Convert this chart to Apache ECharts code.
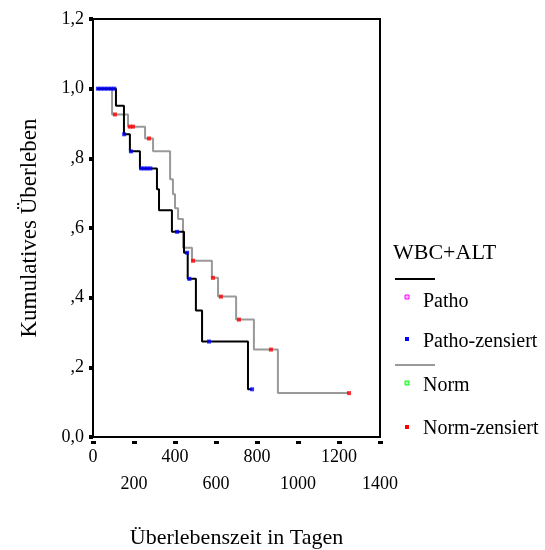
<!DOCTYPE html>
<html>
<head>
<meta charset="utf-8">
<script src="https://cdn.jsdelivr.net/npm/echarts@6/dist/echarts.min.js"></script>
<style>html,body{margin:0;padding:0;background:#fff}#c{width:545px;height:550px}</style>
</head>
<body>
<div id="c"></div>
<script>
// Tick labels
const xTickLabels = ['0','200','400','600','800','1000','1200','1400'];
const yTickLabels = ['0,0',',2',',4',',6',',8','1,0','1,2'];

// Patho (black step line): times and survival after each step
const pathoTimes = [20,112,151,180,229,312,322,385,444,462,502,532,756,776];
const pathoSurv  = [1.0,0.951,0.869,0.820,0.771,0.711,0.651,0.589,0.529,0.454,0.363,0.274,0.137,0.137];
// Patho censored
const pathoCensTimes = [24,40,56,72,88,104,152,185,235,250,265,280,410,459,470,566,776];
const pathoCensSurv  = [1.0,1.0,1.0,1.0,1.0,1.0,0.869,0.820,0.771,0.771,0.771,0.771,0.589,0.529,0.454,0.274,0.137];

// Norm (gray step line)
const normTimes = [20,93,171,254,293,376,390,400,415,439,483,580,610,698,785,902,1249];
const normSurv  = [1.0,0.926,0.891,0.857,0.820,0.740,0.697,0.657,0.626,0.543,0.506,0.457,0.403,0.337,0.251,0.126,0.126];
// Norm censored
const normCensTimes = [107,180,195,273,488,585,624,712,868,1249];
const normCensSurv  = [0.926,0.891,0.891,0.857,0.506,0.457,0.403,0.337,0.251,0.126];

const zip = (a,b) => a.map((v,i)=>[v,b[i]]);
const FONT = '"Liberation Serif", "Times New Roman", serif';

const chart = echarts.init(document.getElementById('c'), null, {renderer:'canvas'});
chart.setOption({
  animation:false,
  backgroundColor:'#fff',
  grid:{left:93,right:165,top:19,bottom:113,outerBoundsMode:'none',containLabel:false,
        show:true,borderColor:'#000',borderWidth:2,backgroundColor:'transparent'},
  xAxis:[{
    type:'value',min:0,max:1400,interval:200,
    axisLine:{show:true,lineStyle:{color:'#000',width:2}},
    axisTick:{show:false},
    splitLine:{show:false},
    axisLabel:{
      color:'#000',fontFamily:FONT,fontSize:18,lineHeight:27,margin:7,
      formatter:(v)=>{const i=Math.round(v/200);return (i%2?'\n':'')+xTickLabels[i];}
    },
    name:'Überlebenszeit in Tagen',nameLocation:'middle',nameGap:90,
    nameTextStyle:{color:'#000',fontFamily:FONT,fontSize:22}
  },{
    type:'value',min:0,max:1400,interval:200,position:'bottom',offset:4,
    axisLine:{show:false},axisLabel:{show:false},splitLine:{show:false},
    axisTick:{show:true,length:3,lineStyle:{color:'#000',width:5}}
  }],
  yAxis:{
    type:'value',min:0,max:1.2,interval:0.2,
    axisLine:{show:true,lineStyle:{color:'#000',width:2}},
    axisTick:{show:true,length:4,lineStyle:{color:'#000',width:4}},
    splitLine:{show:false},
    axisLabel:{
      color:'#000',fontFamily:FONT,fontSize:18,margin:9,
      formatter:(v)=>yTickLabels[Math.round(v/0.2)]
    },
    name:'Kumulatives Überleben',nameLocation:'middle',nameGap:52,
    nameTextStyle:{color:'#000',fontFamily:FONT,fontSize:23}
  },
  series:[
    {name:'Norm',type:'line',step:'end',symbol:'none',data:zip(normTimes,normSurv),
     lineStyle:{color:'#999',width:2},z:2},
    {name:'Patho',type:'line',step:'end',symbol:'none',data:zip(pathoTimes,pathoSurv),
     lineStyle:{color:'#000',width:2},z:3},
    {name:'Patho-zensiert',type:'scatter',symbol:'rect',symbolSize:4,data:zip(pathoCensTimes,pathoCensSurv),
     itemStyle:{color:'#0000ff'},z:4},
    {name:'Norm-zensiert',type:'scatter',symbol:'rect',symbolSize:4,data:zip(normCensTimes,normCensSurv),
     itemStyle:{color:'#ff0000'},z:4}
  ],
  graphic:[
    {type:'text',x:393,y:253,style:{text:'WBC+ALT',fill:'#000',font:'22px '+FONT,verticalAlign:'middle'}},
    {type:'line',shape:{x1:395,y1:279,x2:435,y2:279},style:{stroke:'#000',lineWidth:2}},
    {type:'rect',shape:{x:405,y:295,width:4,height:4},style:{fill:'#ffc0ff',stroke:'#ff00ff',lineWidth:1}},
    {type:'text',x:423,y:302,style:{text:'Patho',fill:'#000',font:'20px '+FONT,verticalAlign:'middle'}},
    {type:'rect',shape:{x:405,y:337,width:4,height:4},style:{fill:'#0000ff'}},
    {type:'text',x:423,y:342,style:{text:'Patho-zensiert',fill:'#000',font:'20px '+FONT,verticalAlign:'middle'}},
    {type:'line',shape:{x1:395,y1:365,x2:435,y2:365},style:{stroke:'#999',lineWidth:2}},
    {type:'rect',shape:{x:405,y:381,width:4,height:4},style:{fill:'#c0ffc0',stroke:'#00ff00',lineWidth:1}},
    {type:'text',x:423,y:386,style:{text:'Norm',fill:'#000',font:'20px '+FONT,verticalAlign:'middle'}},
    {type:'rect',shape:{x:405,y:425,width:4,height:4},style:{fill:'#ff0000'}},
    {type:'text',x:423,y:429,style:{text:'Norm-zensiert',fill:'#000',font:'20px '+FONT,verticalAlign:'middle'}}
  ]
});
</script>
</body>
</html>
